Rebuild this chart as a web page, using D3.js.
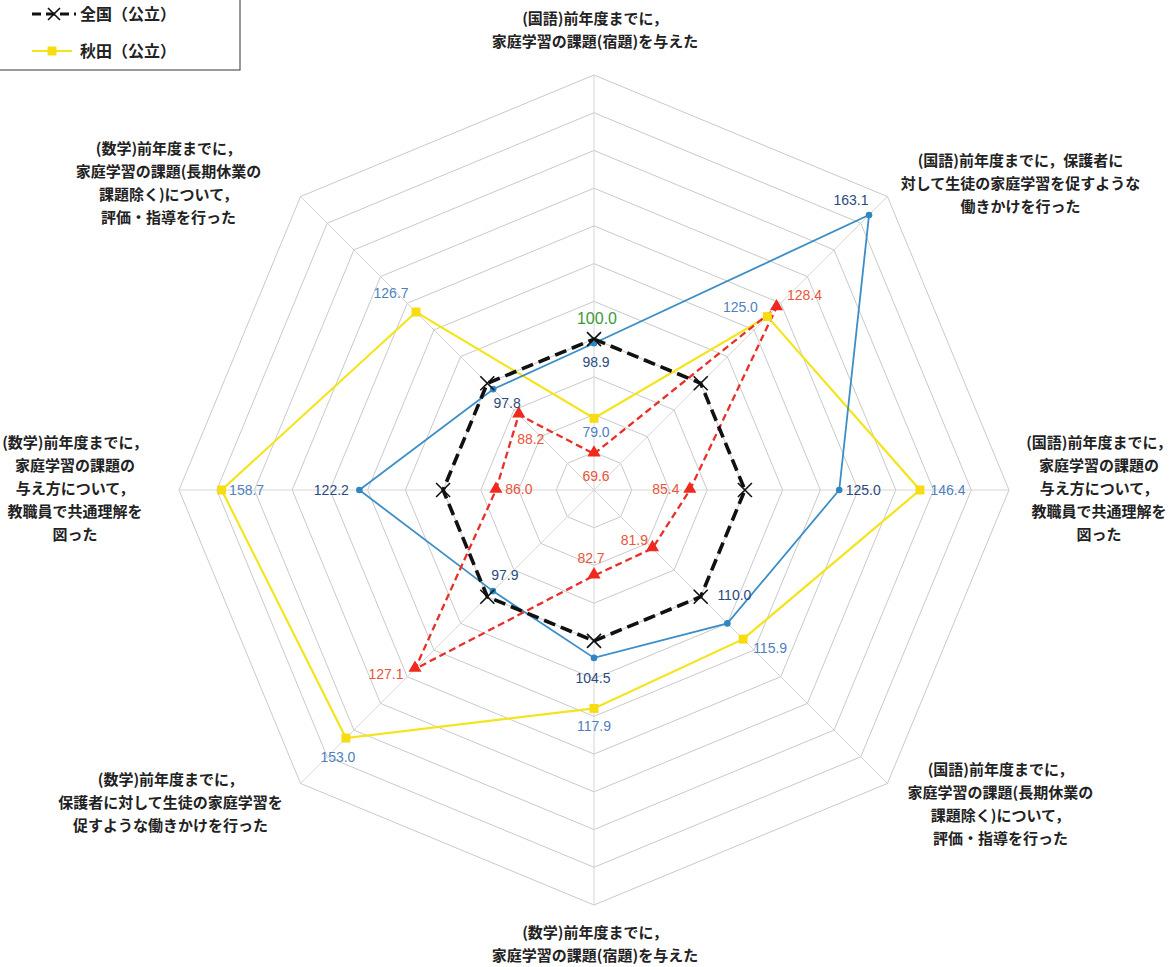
<!DOCTYPE html>
<html>
<head>
<meta charset="utf-8">
<script src="https://cdn.jsdelivr.net/npm/d3@7/dist/d3.min.js"></script>
<style>
  html, body { margin: 0; padding: 0; background: #ffffff; }
  svg { display: block; }
</style>
</head>
<body>
<svg id="chart" width="1175" height="967"></svg>
<script>
// ---------- DATA ----------
const categories = [
  ["(国語)前年度までに，", "家庭学習の課題(宿題)を与えた"],
  ["(国語)前年度までに，保護者に", "対して生徒の家庭学習を促すような", "働きかけを行った"],
  ["(国語)前年度までに，", "家庭学習の課題の", "与え方について，", "教職員で共通理解を", "図った"],
  ["(国語)前年度までに，", "家庭学習の課題(長期休業の", "課題除く)について，", "評価・指導を行った"],
  ["(数学)前年度までに，", "家庭学習の課題(宿題)を与えた"],
  ["(数学)前年度までに，", "保護者に対して生徒の家庭学習を", "促すような働きかけを行った"],
  ["(数学)前年度までに，", "家庭学習の課題の", "与え方について，", "教職員で共通理解を", "図った"],
  ["(数学)前年度までに，", "家庭学習の課題(長期休業の", "課題除く)について，", "評価・指導を行った"]
];
const nationalValues = [100.0, 100.0, 100.0, 100.0, 100.0, 100.0, 100.0, 100.0];
const akitaValues    = [79.0, 125.0, 146.4, 115.9, 117.9, 153.0, 158.7, 126.7];
const blueValues     = [98.9, 163.1, 125.0, 110.0, 104.5, 97.9, 122.2, 97.8];
const redValues      = [69.6, 128.4, 85.4, 81.9, 82.7, 127.1, 86.0, 88.2];
const gridTicks      = [70, 80, 90, 100, 110, 120, 130, 140, 150, 160, 170];
const legendLabels   = ["全国（公立）", "秋田（公立）"];

// ---------- LAYOUT / STYLE ----------
const cx = 594, cy = 490;
const rScale = d3.scaleLinear().domain([60, 170]).range([0, 415]);
const N = categories.length;
const angle = i => i * 2 * Math.PI / N;
const px = (v, i) => cx + rScale(v) * Math.sin(angle(i));
const py = (v, i) => cy - rScale(v) * Math.cos(angle(i));

// category label block offsets from outer vertex
const catOffsets = [[1,-45],[133,-13],[90,-1],[113,21],[1,39],[-130,19],[-104,-1],[-132,-13]];
// data label offsets relative to point
const akitaLabelOff = [[2,14],[-27,-9],[28,0],[27,9],[0,18],[-8,19],[25,0],[-25,-19]];
const blueLabelOff  = [[2,19],[-18,-15],[24,0],[7,-28],[-1,20],[12,-16],[-28,0],[14,14]];
const redLabelOff   = [[2,22],[28,-12],[-24,-1],[-18,-8],[-3,-18],[-29,5],[23,-1],[12,24]];

const svg = d3.select("#chart");
const g = svg.append("g");

// ---------- GRID ----------
const ringLine = d3.lineRadial()
  .angle((d, i) => angle(i))
  .radius(d => rScale(d))
  .curve(d3.curveLinearClosed);

g.append("g").attr("transform", `translate(${cx},${cy})`)
  .selectAll("path.ring").data(gridTicks).join("path")
  .attr("class", "ring")
  .attr("d", t => ringLine(d3.range(N).map(() => t)))
  .attr("fill", "none")
  .attr("stroke", "#c9c9c9")
  .attr("stroke-width", 1);

g.append("g").selectAll("line.spoke").data(d3.range(N)).join("line")
  .attr("x1", cx).attr("y1", cy)
  .attr("x2", i => px(170, i)).attr("y2", i => py(170, i))
  .attr("stroke", "#d6d6d6")
  .attr("stroke-width", 1);

// ---------- CATEGORY LABELS ----------
const lineH = 23;
const catG = g.append("g")
  .attr("font-family", "'Noto Sans CJK JP', 'Noto Sans', sans-serif")
  .attr("font-size", 15)
  .attr("font-weight", "bold")
  .attr("fill", "#222");
categories.forEach((lines, i) => {
  const bx = px(170, i) + catOffsets[i][0];
  const by = py(170, i) + catOffsets[i][1];
  const top = by - (lines.length - 1) * lineH / 2;
  const t = catG.append("text").attr("text-anchor", "middle");
  lines.forEach((ln, j) => {
    t.append("tspan").attr("x", bx).attr("y", top + j * lineH)
      .attr("dy", "0.35em").text(ln);
  });
});

// ---------- SERIES ----------
const seriesLine = d3.lineRadial()
  .angle((d, i) => angle(i))
  .radius(d => rScale(d))
  .curve(d3.curveLinearClosed);

const plot = g.append("g").attr("transform", `translate(${cx},${cy})`);

plot.append("path").attr("d", seriesLine(akitaValues))
  .attr("fill", "none").attr("stroke", "#f4e41c").attr("stroke-width", 2.2);
plot.append("path").attr("d", seriesLine(blueValues))
  .attr("fill", "none").attr("stroke", "#3b8ec8").attr("stroke-width", 1.8);
plot.append("path").attr("d", seriesLine(redValues))
  .attr("fill", "none").attr("stroke", "#e8302a").attr("stroke-width", 2.3)
  .attr("stroke-dasharray", "7,4");
plot.append("path").attr("d", seriesLine(nationalValues))
  .attr("fill", "none").attr("stroke", "#111").attr("stroke-width", 3.6)
  .attr("stroke-dasharray", "12,6");

// markers
const sq = d3.symbol().type(d3.symbolSquare).size(80);
const tri = d3.symbol().type(d3.symbolTriangle).size(75);

g.append("g").selectAll("path").data(akitaValues).join("path")
  .attr("d", sq())
  .attr("transform", (d, i) => `translate(${px(d, i)},${py(d, i)})`)
  .attr("fill", "#f6dc10");

g.append("g").selectAll("circle").data(blueValues).join("circle")
  .attr("cx", (d, i) => px(d, i)).attr("cy", (d, i) => py(d, i))
  .attr("r", 3.3).attr("fill", "#2f86c0");

g.append("g").selectAll("path").data(redValues).join("path")
  .attr("d", tri())
  .attr("transform", (d, i) => `translate(${px(d, i)},${py(d, i) - 1})`)
  .attr("fill", "#ee2a20");

const xs = 7;
g.append("g").selectAll("path").data(nationalValues).join("path")
  .attr("d", `M${-xs},${-xs}L${xs},${xs}M${-xs},${xs}L${xs},${-xs}`)
  .attr("transform", (d, i) => `translate(${px(d, i)},${py(d, i)})`)
  .attr("stroke", "#111").attr("stroke-width", 1.6).attr("fill", "none");

// ---------- DATA LABELS ----------
const lblG = g.append("g")
  .attr("font-family", "'Liberation Sans', Arial, sans-serif")
  .attr("font-size", 14)
  .attr("text-anchor", "middle");

function addLabels(values, offs, color, weight) {
  lblG.append("g").selectAll("text").data(values).join("text")
    .attr("x", (d, i) => px(d, i) + offs[i][0])
    .attr("y", (d, i) => py(d, i) + offs[i][1])
    .attr("dy", "0.35em")
    .attr("fill", color)
    .attr("font-weight", weight)
    .text(d => d.toFixed(1));
}
addLabels(akitaValues, akitaLabelOff, "#4f7fc0", "normal");
addLabels(blueValues, blueLabelOff, "#2b4a7e", "normal");
addLabels(redValues, redLabelOff, "#e8553a", "normal");

lblG.append("text")
  .attr("x", px(nationalValues[0], 0) + 3)
  .attr("y", py(nationalValues[0], 0) - 21)
  .attr("dy", "0.35em")
  .attr("font-size", 16)
  .attr("fill", "#3a9a3a")
  .text(nationalValues[0].toFixed(1));

// ---------- LEGEND ----------
const leg = svg.append("g");
leg.append("rect")
  .attr("x", -2).attr("y", -40).attr("width", 242).attr("height", 110)
  .attr("fill", "#fff").attr("stroke", "#555").attr("stroke-width", 1.2);

leg.append("line").attr("x1", 32).attr("x2", 76).attr("y1", 14).attr("y2", 14)
  .attr("stroke", "#111").attr("stroke-width", 3.2).attr("stroke-dasharray", "9,5");
leg.append("path")
  .attr("d", `M-6,-6L6,6M-6,6L6,-6`)
  .attr("transform", "translate(54,14)")
  .attr("stroke", "#111").attr("stroke-width", 1.6);
leg.append("line").attr("x1", 32).attr("x2", 72).attr("y1", 51).attr("y2", 51)
  .attr("stroke", "#f4e41c").attr("stroke-width", 2.2);
leg.append("path").attr("d", sq()).attr("transform", "translate(52,51)")
  .attr("fill", "#f6dc10");

leg.selectAll("text.leg").data(legendLabels).join("text")
  .attr("class", "leg")
  .attr("x", 80).attr("y", (d, i) => [14, 51][i])
  .attr("dy", "0.35em")
  .attr("font-family", "'Noto Sans CJK JP', sans-serif")
  .attr("font-size", 16).attr("font-weight", "bold").attr("fill", "#222")
  .text(d => d);
</script>
</body>
</html>
